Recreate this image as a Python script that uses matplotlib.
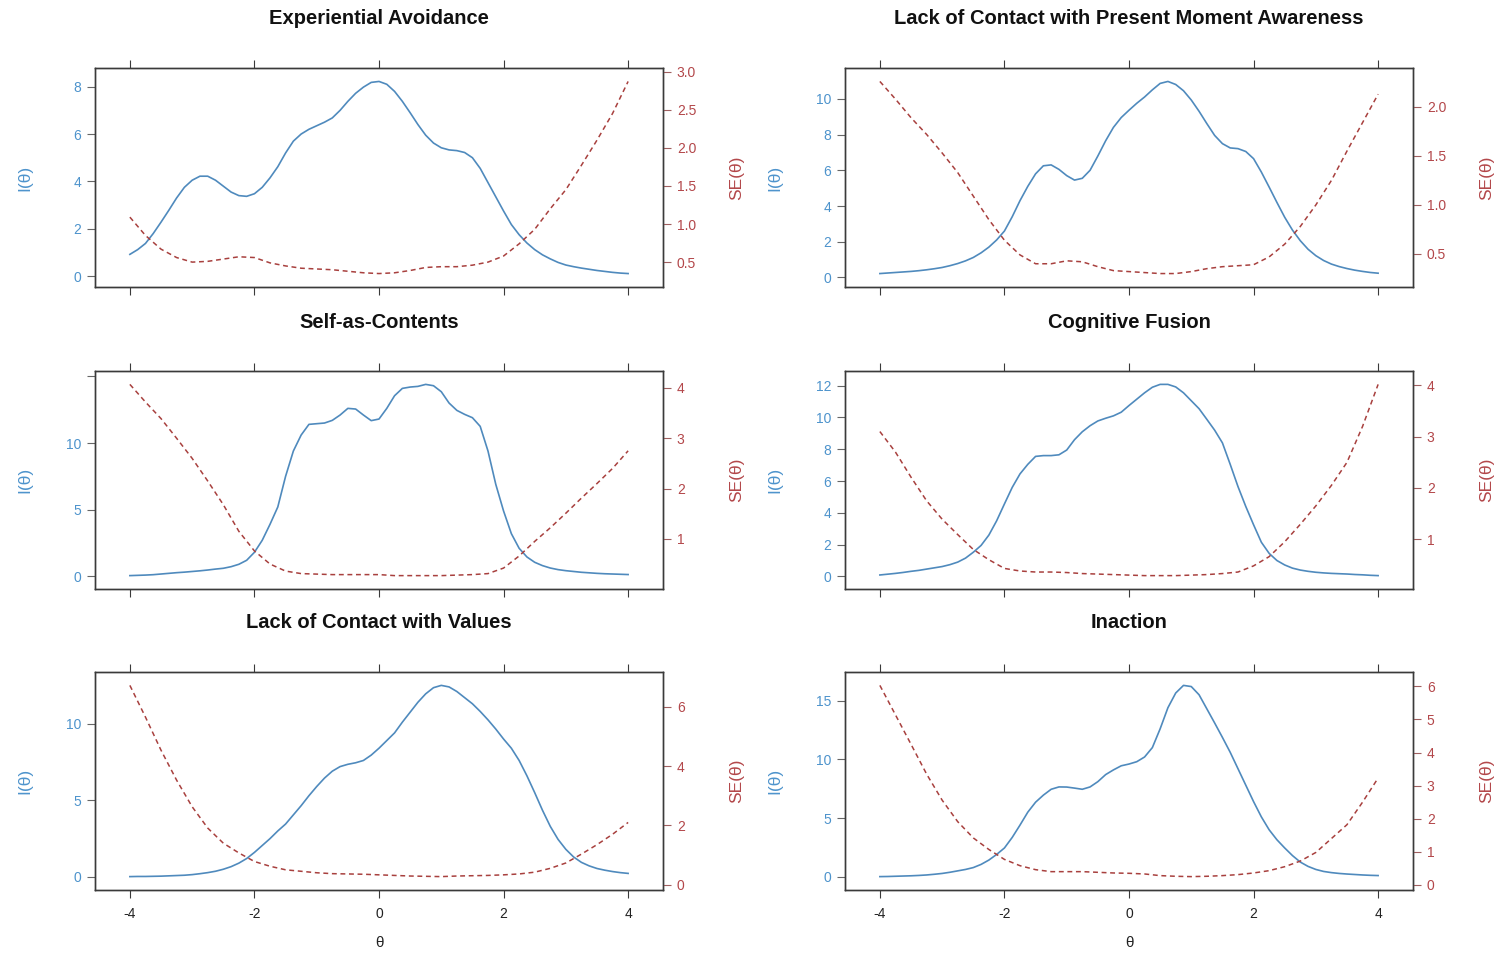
import matplotlib
matplotlib.use('Agg')
import matplotlib.pyplot as plt

plt.rcParams['font.family'] = ['Liberation Sans', 'DejaVu Sans']

# theta grid for the information curves (step 0.125)
theta_info = [-4.0, -3.875, -3.75, -3.625, -3.5, -3.375, -3.25, -3.125,
              -3.0, -2.875, -2.75, -2.625, -2.5, -2.375, -2.25, -2.125,
              -2.0, -1.875, -1.75, -1.625, -1.5, -1.375, -1.25, -1.125,
              -1.0, -0.875, -0.75, -0.625, -0.5, -0.375, -0.25, -0.125,
              0.0, 0.125, 0.25, 0.375, 0.5, 0.625, 0.75, 0.875,
              1.0, 1.125, 1.25, 1.375, 1.5, 1.625, 1.75, 1.875,
              2.0, 2.125, 2.25, 2.375, 2.5, 2.625, 2.75, 2.875,
              3.0, 3.125, 3.25, 3.375, 3.5, 3.625, 3.75, 3.875, 4.0]

# theta grid for the standard error curves (step 0.25)
theta_se = [-4.0, -3.75, -3.5, -3.25, -3.0, -2.75, -2.5, -2.25, -2.0, -1.75, -1.5,
            -1.25, -1.0, -0.75, -0.5, -0.25, 0.0, 0.25, 0.5, 0.75, 1.0, 1.25, 1.5,
            1.75, 2.0, 2.25, 2.5, 2.75, 3.0, 3.25, 3.5, 3.75, 4.0]

titles = ['Experiential Avoidance', 'Lack of Contact with Present Moment Awareness',
          'Self-as-Contents', 'Cognitive Fusion',
          'Lack of Contact with Values', 'Inaction']

# test information I(theta)
ea_info = [0.92, 1.12, 1.38, 1.80, 2.28, 2.78, 3.30, 3.75, 4.05, 4.22, 4.22, 4.05, 3.80,
           3.55, 3.40, 3.37, 3.48, 3.75, 4.15, 4.62, 5.20, 5.70, 6.00, 6.20, 6.35, 6.50,
           6.68, 7.00, 7.38, 7.72, 7.98, 8.18, 8.22, 8.10, 7.80, 7.38, 6.90, 6.40, 5.95,
           5.62, 5.42, 5.33, 5.30, 5.22, 5.00, 4.55, 3.95, 3.35, 2.75, 2.18, 1.75, 1.40,
           1.12, 0.90, 0.73, 0.58, 0.47, 0.40, 0.34, 0.29, 0.24, 0.20, 0.16, 0.13, 0.11]
pm_info = [0.22, 0.25, 0.28, 0.31, 0.34, 0.38, 0.43, 0.49, 0.56, 0.66, 0.78, 0.93, 1.12,
           1.38, 1.70, 2.10, 2.60, 3.40, 4.30, 5.10, 5.80, 6.25, 6.30, 6.05, 5.70, 5.45,
           5.55, 6.00, 6.80, 7.65, 8.40, 8.95, 9.36, 9.75, 10.10, 10.50, 10.86, 10.97,
           10.80, 10.45, 9.93, 9.30, 8.61, 7.95, 7.49, 7.25, 7.21, 7.05, 6.65, 5.90, 5.06,
           4.20, 3.37, 2.65, 2.06, 1.58, 1.22, 0.95, 0.75, 0.61, 0.50, 0.41, 0.34, 0.28,
           0.24]
sc_info = [0.05, 0.07, 0.09, 0.12, 0.17, 0.22, 0.27, 0.31, 0.36, 0.41, 0.47, 0.54, 0.60,
           0.72, 0.90, 1.20, 1.80, 2.70, 3.90, 5.20, 7.50, 9.40, 10.60, 11.40, 11.45,
           11.50, 11.70, 12.10, 12.60, 12.55, 12.10, 11.68, 11.80, 12.60, 13.55, 14.10,
           14.20, 14.25, 14.40, 14.30, 13.85, 13.00, 12.45, 12.15, 11.90, 11.25, 9.40,
           6.90, 4.90, 3.20, 2.10, 1.45, 1.05, 0.80, 0.62, 0.50, 0.42, 0.36, 0.30, 0.26,
           0.22, 0.19, 0.17, 0.15, 0.13]
cf_info = [0.09, 0.14, 0.19, 0.25, 0.32, 0.38, 0.46, 0.54, 0.62, 0.74, 0.90, 1.15, 1.52,
           1.95, 2.60, 3.50, 4.56, 5.60, 6.45, 7.05, 7.55, 7.60, 7.60, 7.65, 7.95, 8.60,
           9.10, 9.48, 9.78, 9.95, 10.10, 10.33, 10.75, 11.15, 11.55, 11.90, 12.08, 12.08,
           11.92, 11.55, 11.05, 10.55, 9.88, 9.20, 8.40, 7.05, 5.65, 4.40, 3.25, 2.15,
           1.45, 1.00, 0.72, 0.52, 0.40, 0.32, 0.26, 0.22, 0.19, 0.17, 0.15, 0.12, 0.10,
           0.07, 0.05]
cv_info = [0.02, 0.03, 0.03, 0.04, 0.05, 0.07, 0.09, 0.11, 0.15, 0.21, 0.28, 0.37, 0.50,
           0.67, 0.90, 1.20, 1.60, 2.05, 2.50, 3.00, 3.45, 4.05, 4.65, 5.30, 5.90, 6.45,
           6.90, 7.20, 7.35, 7.45, 7.60, 7.95, 8.40, 8.90, 9.40, 10.10, 10.75, 11.40,
           11.95, 12.35, 12.50, 12.40, 12.10, 11.70, 11.30, 10.80, 10.25, 9.65, 9.00,
           8.40, 7.60, 6.60, 5.50, 4.35, 3.30, 2.45, 1.80, 1.30, 0.95, 0.72, 0.55, 0.44,
           0.35, 0.28, 0.23]
in_info = [0.01, 0.02, 0.04, 0.06, 0.08, 0.11, 0.15, 0.21, 0.28, 0.38, 0.50, 0.62, 0.78,
           1.05, 1.42, 1.90, 2.45, 3.35, 4.40, 5.50, 6.35, 6.95, 7.45, 7.65, 7.64, 7.55,
           7.45, 7.65, 8.10, 8.70, 9.10, 9.45, 9.60, 9.80, 10.20, 11.00, 12.60, 14.40,
           15.65, 16.30, 16.20, 15.50, 14.30, 13.10, 11.87, 10.60, 9.20, 7.80, 6.40, 5.10,
           4.00, 3.15, 2.45, 1.80, 1.25, 0.88, 0.62, 0.45, 0.35, 0.28, 0.23, 0.19, 0.15,
           0.12, 0.10]

# standard error SE(theta)
ea_se = [1.09, 0.85, 0.67, 0.56, 0.50, 0.51, 0.54, 0.57, 0.56, 0.49, 0.45, 0.42, 0.41,
         0.40, 0.38, 0.36, 0.35, 0.36, 0.39, 0.43, 0.44, 0.44, 0.46, 0.50, 0.58, 0.74,
         0.93, 1.20, 1.45, 1.77, 2.10, 2.45, 2.87]
pm_se = [2.26, 2.08, 1.89, 1.72, 1.53, 1.33, 1.09, 0.85, 0.64, 0.49, 0.40, 0.40, 0.43,
         0.42, 0.37, 0.33, 0.32, 0.31, 0.30, 0.30, 0.32, 0.35, 0.37, 0.38, 0.39, 0.47,
         0.60, 0.78, 1.00, 1.25, 1.55, 1.84, 2.13]
sc_se = [4.07, 3.72, 3.39, 3.00, 2.60, 2.15, 1.68, 1.15, 0.76, 0.50, 0.36, 0.31, 0.30,
         0.29, 0.29, 0.29, 0.29, 0.27, 0.27, 0.27, 0.27, 0.28, 0.29, 0.31, 0.42, 0.66,
         0.95, 1.22, 1.51, 1.81, 2.10, 2.40, 2.75]
cf_se = [3.10, 2.70, 2.21, 1.75, 1.39, 1.09, 0.80, 0.60, 0.43, 0.38, 0.36, 0.36, 0.35,
         0.33, 0.32, 0.31, 0.30, 0.29, 0.29, 0.29, 0.30, 0.31, 0.33, 0.36, 0.48, 0.66,
         0.95, 1.29, 1.65, 2.05, 2.50, 3.20, 4.02]
cv_se = [6.73, 5.66, 4.54, 3.53, 2.63, 1.91, 1.40, 1.07, 0.78, 0.62, 0.50, 0.45, 0.40,
         0.37, 0.36, 0.35, 0.33, 0.31, 0.29, 0.28, 0.27, 0.29, 0.30, 0.31, 0.33, 0.36,
         0.42, 0.55, 0.73, 1.03, 1.35, 1.70, 2.10]
in_se = [6.03, 5.14, 4.25, 3.35, 2.56, 1.91, 1.42, 1.07, 0.77, 0.58, 0.46, 0.40, 0.40,
         0.40, 0.38, 0.36, 0.35, 0.33, 0.28, 0.26, 0.25, 0.26, 0.28, 0.31, 0.36, 0.43,
         0.55, 0.72, 0.98, 1.40, 1.82, 2.50, 3.23]

# tick labels
x_ticks = [-4, -2, 0, 2, 4]
info_ticks = [[0, 2, 4, 6, 8], [0, 2, 4, 6, 8, 10], [0, 5, 10, 15],
              [0, 2, 4, 6, 8, 10, 12], [0, 5, 10], [0, 5, 10, 15]]
se_ticks = [[0.5, 1.0, 1.5, 2.0, 2.5, 3.0], [0.5, 1.0, 1.5, 2.0], [1, 2, 3, 4],
            [1, 2, 3, 4], [0, 2, 4, 6], [0, 1, 2, 3, 4, 5, 6]]
se_labels = [['0.5', '1.0', '1.5', '2.0', '2.5', '3.0'], ['0.5', '1.0', '1.5', '2.0'],
             ['1', '2', '3', '4'], ['1', '2', '3', '4'], ['0', '2', '4', '6'],
             ['0', '1', '2', '3', '4', '5', '6']]

all_info = [ea_info, pm_info, sc_info, cf_info, cv_info, in_info]
all_se = [ea_se, pm_se, sc_se, cf_se, cv_se, in_se]

W, H = 1501, 956
col_x = [(95, 663), (845, 1413)]
row_y = [(68, 287), (371, 589), (672, 890)]

blue_line = '#4f8abd'
blue_text = '#4d93cc'
red_line = '#a8403e'
red_text = '#b3474a'
frame = '#3a3a3a'


def pad_limits(values, frac=0.07):
    lo, hi = min(values), max(values)
    r = hi - lo
    return lo - frac * r, hi + frac * r


def draw_panel(fig, k):
    row, col = k // 2, k % 2
    x0, x1 = col_x[col]
    y0, y1 = row_y[row]
    ax = fig.add_axes([x0 / W, 1 - y1 / H, (x1 - x0) / W, (y1 - y0) / H])
    ax2 = ax.twinx()

    ax.plot(theta_info, all_info[k], color=blue_line, lw=1.2)
    ax2.plot(theta_se, all_se[k], color=red_line, lw=1.1, ls=(0, (3.2, 2.4)))

    ax.set_xlim(-4.56, 4.56)
    ax.set_ylim(*pad_limits(all_info[k]))
    ax2.set_ylim(*pad_limits(all_se[k]))

    ax.set_xticks(x_ticks)
    ax.set_xticklabels([str(t) for t in x_ticks])
    ax.set_yticks(info_ticks[k])
    labels = [str(t) for t in info_ticks[k]]
    if k == 2:
        labels[-1] = ''
    ax.set_yticklabels(labels)
    ax2.set_yticks(se_ticks[k])
    ax2.set_yticklabels(se_labels[k])

    ax.tick_params(axis='x', direction='out', length=6, width=0.8, color=frame,
                   top=True, labeltop=False, labelbottom=(row == 2),
                   labelsize=10, labelcolor='#222222', pad=6)
    ax.tick_params(axis='y', direction='out', length=6, width=0.8, color='#666666',
                   labelsize=10, labelcolor=blue_text, pad=4)
    ax2.tick_params(axis='y', direction='out', length=6, width=0.8, color='#a06060',
                    labelsize=10, labelcolor=red_text, pad=4)

    for a in (ax, ax2):
        for s in a.spines.values():
            s.set_color(frame)
            s.set_linewidth(1.0)

    xc = (x0 + x1) / 2
    yc = (y0 + y1) / 2
    fig.text(xc / W, 1 - (y0 - 49) / H, titles[k], ha='center', va='center',
             fontsize=14.5, fontweight='bold', color='#111111')
    fig.text((x0 - 70) / W, 1 - yc / H, 'I(θ)', rotation=90, ha='center',
             va='center', fontsize=12.5, color=blue_text)
    fig.text((x1 + 74) / W, 1 - yc / H, 'SE(θ)', rotation=90, ha='center',
             va='center', fontsize=12.5, color=red_text)
    if row == 2:
        fig.text(xc / W, 1 - 943 / H, 'θ', ha='center', va='center',
                 fontsize=11, color='#222222')


fig = plt.figure(figsize=(W / 100, H / 100), dpi=100)
for k in range(6):
    draw_panel(fig, k)
fig.savefig('out.png', dpi=100, facecolor='white')
